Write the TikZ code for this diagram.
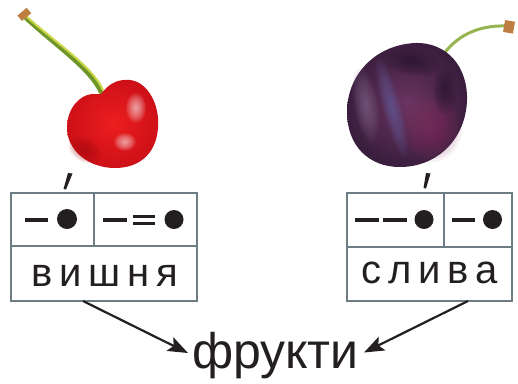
\documentclass[tikz,border=0pt]{standalone}
\usepackage{fontspec}
\setmainfont{Liberation Sans}
\newfontfamily\spacedfont[LetterSpace=17]{Liberation Sans}
\usetikzlibrary{arrows.meta}
\definecolor{boxgray}{RGB}{110,124,132}
\definecolor{ink}{RGB}{35,31,32}
\definecolor{cherryred}{RGB}{236,30,30}
\definecolor{cherrydark}{RGB}{205,16,24}
\definecolor{stemgreen}{RGB}{110,150,40}
\definecolor{stemyellow}{RGB}{205,215,70}
\definecolor{stemtip}{RGB}{190,125,65}
\definecolor{plumdark}{RGB}{58,30,62}
\definecolor{plummid}{RGB}{108,52,98}
\definecolor{plumlight}{RGB}{140,50,100}
\definecolor{plumblue}{RGB}{105,105,170}
\definecolor{plumgrey}{RGB}{140,112,150}
\definecolor{plumshadow}{RGB}{40,20,45}
\definecolor{plumstem}{RGB}{150,180,80}
% soft blob: colour, x, y, rx, ry, rotation
\newcommand\softblob[6]{%
  \foreach \k in {1,...,12}{%
    \fill[#1, opacity=0.07, rotate around={#6:(#2,#3)}] (#2,#3) ellipse ({#4*\k/12} and {#5*\k/12});}}
\begin{document}
\begin{tikzpicture}[x=1pt,y=-1pt,
  cell/.style={draw=boxgray, line width=2pt, inner sep=0pt},
  symline/.style={draw=ink, line width=3.2pt},
  symdot/.style={fill=ink},
  word/.style={anchor=base, inner sep=0pt, text=ink, font=\spacedfont\fontsize{40}{40}\selectfont},
  bigword/.style={anchor=base, inner sep=0pt, text=ink, font=\fontsize{50}{50}\selectfont},
  arr/.style={draw=ink, line width=2.2pt, -{Stealth[length=20pt,width=15pt,inset=4pt]}},
  stress/.style={fill=ink}]
\useasboundingbox (0,0) rectangle (518,383);

% ---------- cherry ----------
\draw[stemgreen, line width=4.5pt, line cap=round] (26,18) .. controls (55,45) and (90,68) .. (101,92);
\draw[stemyellow, line width=2pt, line cap=round] (27,17) .. controls (56,43) and (92,66) .. (103,90);
\fill[stemtip, rotate around={40:(24,14)}] (18,11) rectangle (30,18);
\shade[inner color=cherryred, outer color=cherrydark]
  (102,93) .. controls (110,82) and (120,79) .. (130,80)
  .. controls (148,82) and (160,105) .. (158,128)
  .. controls (156,155) and (138,168) .. (115,168)
  .. controls (88,168) and (67,150) .. (67,128)
  .. controls (67,108) and (80,95) .. (92,94)
  .. controls (96,94) and (100,95) .. (102,93) -- cycle;
\softblob{white}{136}{108}{10}{15}{0}
\softblob{white}{125}{142}{11}{9}{0}
\softblob{cherrydark!80!black}{85}{150}{18}{12}{-30}

% ---------- plum ----------
\draw[plumstem, line width=3pt, line cap=round] (441,58) .. controls (455,36) and (478,25) .. (506,26);
\fill[stemtip, rotate around={-10:(510,27)}] (504,21) rectangle (514,33);
\shade[inner color=plummid, outer color=plumdark]
  (347,112) .. controls (347,75) and (375,45) .. (415,43)
  .. controls (448,42) and (468,68) .. (467,100)
  .. controls (466,138) and (438,167) .. (400,167)
  .. controls (368,167) and (347,145) .. (347,112) -- cycle;
\softblob{plumlight}{432}{128}{30}{34}{0}
\softblob{plumgrey}{366}{105}{12}{38}{10}
\softblob{plumblue}{392}{108}{9}{52}{15}
\softblob{plumshadow}{412}{62}{30}{14}{-10}
\softblob{plumshadow}{445}{90}{12}{25}{0}

% ---------- stress marks ----------
\fill[stress] (68,173) -- (72.5,173.5) -- (66,189.5) -- (63.5,189) -- cycle;
\fill[stress] (426,173) -- (430.5,173.5) -- (426,188.5) -- (423.5,188) -- cycle;

% ---------- left box ----------
\node[cell, minimum width=82.5pt, minimum height=53.5pt] (L1) at (52.25,219.25) {};
\node[cell, minimum width=103.5pt, minimum height=53.5pt] (L2) at (145.25,219.25) {};
\node[cell, minimum width=186pt, minimum height=55pt] (L3) at (104,273.5) {};
\draw[symline] (25,220) -- (48,220);
\fill[symdot] (67,219) circle (10);
\draw[symline] (103,220) -- (127,220);
\draw[symline] (133,216.7) -- (155,216.7);
\draw[symline] (133,223.8) -- (155,223.8);
\fill[symdot] (174,219.5) circle (9.5);
\node[word] (wL) at (105,286) {вишня};

% ---------- right box ----------
\node[cell, minimum width=97pt, minimum height=54.5pt] (R1) at (395.5,219.75) {};
\node[cell, minimum width=68pt, minimum height=54.5pt] (R2) at (478,219.75) {};
\node[cell, minimum width=165pt, minimum height=54pt] (R3) at (429.5,274) {};
\draw[symline] (355,220) -- (379,220);
\draw[symline] (383,220) -- (407,220);
\fill[symdot] (424,219.5) circle (9.5);
\draw[symline] (452,220) -- (475,220);
\fill[symdot] (492.5,219.5) circle (9.5);
\node[word] (wR) at (429.5,283) {слива};

% ---------- result ----------
\node[bigword] (fr) at (275.5,368) {фрукти};
\coordinate (aLs) at (83,301);
\coordinate (aLe) at (188,353);
\coordinate (aRs) at (468,301);
\coordinate (aRe) at (364,352.5);
\draw[arr] (aLs) -- (aLe);
\draw[arr] (aRs) -- (aRe);
\end{tikzpicture}
\end{document}
